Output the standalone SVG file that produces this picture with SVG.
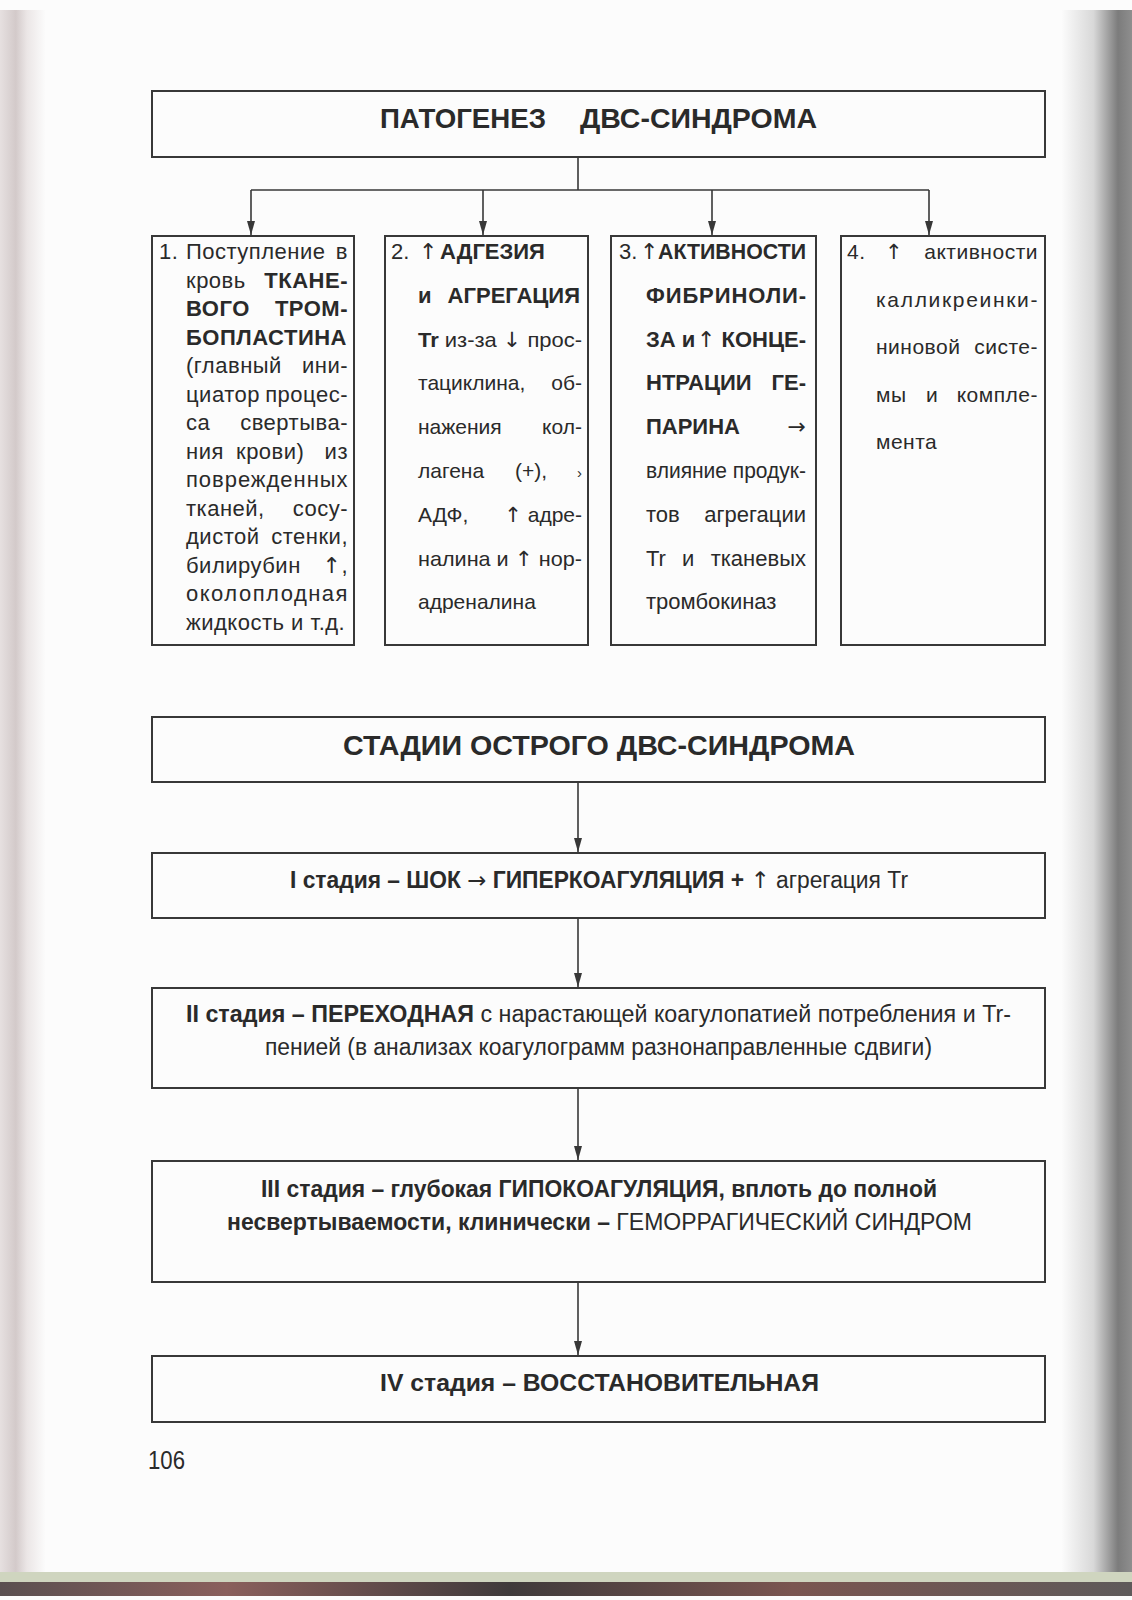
<svg xmlns="http://www.w3.org/2000/svg" width="1132" height="1600" viewBox="0 0 1132 1600">
<style>
.t{font-family:"Liberation Sans",Arial,sans-serif;font-size:22px;fill:#2a2a2a}
.n{font-family:"Liberation Sans Narrow","Liberation Sans",Arial,sans-serif}
.ar{font-family:"DejaVu Sans",sans-serif;font-weight:normal}
.b{font-weight:bold}
.e{text-anchor:end}
.r21{font-size:21px}
.h{font-size:28px}
.s{font-size:23px}
.l1{letter-spacing:0.5px}
.l4{letter-spacing:0.5px;font-size:21px}
.box{fill:none;stroke:#383838;stroke-width:2}
.conn{fill:none;stroke:#383838;stroke-width:1.6}
</style>
<defs>
<marker id="ah" markerUnits="userSpaceOnUse" markerWidth="14" markerHeight="10" refX="14" refY="4" orient="auto">
<path d="M0,0 L14,4 L0,8 z" fill="#383838"/>
</marker>
<linearGradient id="gl" x1="0" y1="0" x2="1" y2="0">
<stop offset="0" stop-color="#e6e0e0"/>
<stop offset="0.35" stop-color="#d3caca"/>
<stop offset="0.6" stop-color="#ebe6e6"/>
<stop offset="1" stop-color="#fbfbfb"/>
</linearGradient>
<linearGradient id="gr" x1="0" y1="0" x2="1" y2="0">
<stop offset="0" stop-color="#fbfbfb"/>
<stop offset="0.45" stop-color="#d8d8d8"/>
<stop offset="0.8" stop-color="#7c7c7c"/>
<stop offset="1" stop-color="#8e8e8e"/>
</linearGradient>
<linearGradient id="gb" x1="0" y1="0" x2="1" y2="0">
<stop offset="0" stop-color="#5a4f50"/>
<stop offset="0.2" stop-color="#8a5f5c"/>
<stop offset="0.45" stop-color="#3f3a3b"/>
<stop offset="0.7" stop-color="#7a5550"/>
<stop offset="1" stop-color="#5e5a5a"/>
</linearGradient>
</defs>

<g id="page">
<rect x="0" y="0" width="1132" height="1600" fill="#fcfcfc"/>
<rect x="0" y="10" width="45" height="1570" fill="url(#gl)"/>
<rect x="1062" y="10" width="70" height="1570" fill="url(#gr)"/>
<rect x="0" y="1572" width="1132" height="10" fill="#cfd5bf"/>
<rect x="0" y="1582" width="1132" height="14" fill="url(#gb)"/>
</g>

<g id="connectors">
<path class="conn" d="M578,158 V190 M251,190 H929"/>
<path class="conn" d="M251,190 V235" marker-end="url(#ah)"/>
<path class="conn" d="M483,190 V235" marker-end="url(#ah)"/>
<path class="conn" d="M712,190 V235" marker-end="url(#ah)"/>
<path class="conn" d="M929,190 V235" marker-end="url(#ah)"/>
<path class="conn" d="M578,782 V852" marker-end="url(#ah)"/>
<path class="conn" d="M578,918 V987" marker-end="url(#ah)"/>
<path class="conn" d="M578,1088 V1160" marker-end="url(#ah)"/>
<path class="conn" d="M578,1282 V1355" marker-end="url(#ah)"/>
</g>

<g id="title">
<rect class="box" x="152" y="91" width="893" height="66"/>
<text class="t n b h" x="380" y="128" textLength="166" lengthAdjust="spacingAndGlyphs">ПАТОГЕНЕЗ</text>
<text class="t n b h" x="580" y="128" textLength="237" lengthAdjust="spacingAndGlyphs">ДВС-СИНДРОМА</text>
</g>

<g id="box1">
<rect class="box" x="152" y="236" width="202" height="409"/>
<g class="t l1">
<text x="159" y="259">1.</text><text x="186" y="259">Поступление</text><text class="e" x="348" y="259">в</text>
<text x="186" y="287.5">кровь</text><text class="e b" x="348" y="287.5">ТКАНЕ-</text>
<text class="b" x="186" y="316">ВОГО</text><text class="e b" x="348" y="316">ТРОМ-</text>
<text class="b" x="186" y="344.5" textLength="161" lengthAdjust="spacing">БОПЛАСТИНА</text>
<text x="186" y="373">(главный</text><text class="e" x="348" y="373">ини-</text>
<text x="186" y="401.5">циатор</text><text class="e" x="348" y="401.5">процес-</text>
<text x="186" y="430">са</text><text class="e" x="348" y="430">свертыва-</text>
<text x="186" y="458.5">ния</text><text x="236" y="458.5">крови)</text><text class="e" x="348" y="458.5">из</text>
<text x="186" y="487" textLength="162" lengthAdjust="spacing">поврежденных</text>
<text x="186" y="515.5">тканей,</text><text class="e" x="348" y="515.5">сосу-</text>
<text x="186" y="544">дистой</text><text class="e" x="348" y="544">стенки,</text>
<text x="186" y="572.5">билирубин</text><text class="e" x="348" y="572.5"><tspan class="ar">↑</tspan>,</text>
<text x="186" y="601" textLength="162" lengthAdjust="spacing">околоплодная</text>
<text x="186" y="629.5">жидкость и т.д.</text>
</g>
</g>

<g id="box2">
<rect class="box" x="385" y="236" width="203" height="409"/>
<g class="t">
<text x="391" y="259">2.</text><text class="ar" x="419" y="259">↑</text><text class="b" x="440" y="259">АДГЕЗИЯ</text>
<text class="b" x="418" y="302.8">и</text><text class="b e" x="580" y="302.8">АГРЕГАЦИЯ</text>
<text class="r21" x="418" y="346.6" textLength="164" lengthAdjust="spacingAndGlyphs"><tspan class="b">Tr</tspan> из-за <tspan class="ar">↓</tspan> прос-</text>
<text class="r21" x="418" y="390.4">тациклина,</text><text class="e r21" x="582" y="390.4">об-</text>
<text class="r21" x="418" y="434.2">нажения</text><text class="e r21" x="582" y="434.2">кол-</text>
<text class="r21" x="418" y="478">лагена</text><text class="r21" x="515" y="478">(+),</text><text class="e" x="582" y="478" style="font-size:15px">›</text>
<text class="r21" x="418" y="521.8">АДФ,</text><text class="e r21" x="582" y="521.8"><tspan class="ar">↑</tspan> адре-</text>
<text class="r21" x="418" y="565.6" textLength="164" lengthAdjust="spacingAndGlyphs">налина и <tspan class="ar">↑</tspan> нор-</text>
<text class="r21" x="418" y="609.4">адреналина</text>
</g>
</g>

<g id="box3">
<rect class="box" x="611" y="236" width="205" height="409"/>
<g class="t">
<text x="619" y="259">3.</text><text class="ar" x="640" y="259">↑</text><text class="b" x="658" y="259" textLength="148" lengthAdjust="spacingAndGlyphs">АКТИВНОСТИ</text>
<text class="b" x="646" y="302.8" textLength="160" lengthAdjust="spacing">ФИБРИНОЛИ-</text>
<text class="b" x="646" y="346.6">ЗА и</text><text class="e" x="806" y="346.6"><tspan class="ar">↑</tspan> <tspan class="b">КОНЦЕ-</tspan></text>
<text class="b" x="646" y="390.4">НТРАЦИИ</text><text class="b e" x="806" y="390.4">ГЕ-</text>
<text class="b" x="646" y="434.2">ПАРИНА</text><text class="e ar" x="806" y="434.2">→</text>
<text x="646" y="478" textLength="160" lengthAdjust="spacingAndGlyphs">влияние продук-</text>
<text x="646" y="521.8">тов</text><text class="e" x="806" y="521.8">агрегации</text>
<text x="646" y="565.6">Tr</text><text x="682" y="565.6">и</text><text class="e" x="806" y="565.6">тканевых</text>
<text x="646" y="609.4">тромбокиназ</text>
</g>
</g>

<g id="box4">
<rect class="box" x="841" y="236" width="204" height="409"/>
<g class="t l4">
<text x="847" y="259">4.</text><text class="ar" x="885" y="259">↑</text><text class="e" x="1038" y="259">активности</text>
<text x="876" y="306.5" textLength="162" lengthAdjust="spacing">калликреинки-</text>
<text x="876" y="354">ниновой</text><text class="e" x="1038" y="354">систе-</text>
<text x="876" y="401.5">мы</text><text x="926" y="401.5">и</text><text class="e" x="1038" y="401.5">компле-</text>
<text x="876" y="449">мента</text>
</g>
</g>

<g id="stages-title">
<rect class="box" x="152" y="717" width="893" height="65"/>
<text class="t n b h" x="343" y="755" textLength="512" lengthAdjust="spacingAndGlyphs">СТАДИИ ОСТРОГО ДВС-СИНДРОМА</text>
</g>

<g id="stage1">
<rect class="box" x="152" y="853" width="893" height="65"/>
<text class="t n s" x="290" y="888" textLength="618" lengthAdjust="spacingAndGlyphs"><tspan class="b">I стадия – ШОК</tspan> <tspan class="ar">→</tspan> <tspan class="b">ГИПЕРКОАГУЛЯЦИЯ +</tspan> <tspan class="ar">↑</tspan> агрегация Tr</text>
</g>

<g id="stage2">
<rect class="box" x="152" y="988" width="893" height="100"/>
<text class="t n s" x="186" y="1022" textLength="825" lengthAdjust="spacingAndGlyphs"><tspan class="b">II стадия – ПЕРЕХОДНАЯ</tspan> с нарастающей коагулопатией потребления и Tr-</text>
<text class="t n s" x="265" y="1055" textLength="667" lengthAdjust="spacingAndGlyphs">пенией (в анализах коагулограмм разнонаправленные сдвиги)</text>
</g>

<g id="stage3">
<rect class="box" x="152" y="1161" width="893" height="121"/>
<text class="t n b s" x="261" y="1197" textLength="676" lengthAdjust="spacingAndGlyphs">III стадия – глубокая ГИПОКОАГУЛЯЦИЯ, вплоть до полной</text>
<text class="t n s" x="227" y="1230" textLength="745" lengthAdjust="spacingAndGlyphs"><tspan class="b">несвертываемости,  клинически –</tspan> ГЕМОРРАГИЧЕСКИЙ СИНДРОМ</text>
</g>

<g id="stage4">
<rect class="box" x="152" y="1356" width="893" height="66"/>
<text class="t n b s" x="380" y="1391" textLength="439" lengthAdjust="spacingAndGlyphs">IV стадия – ВОССТАНОВИТЕЛЬНАЯ</text>
</g>

<text class="t n" x="148" y="1469" style="font-size:26px" textLength="37" lengthAdjust="spacingAndGlyphs">106</text>
</svg>
